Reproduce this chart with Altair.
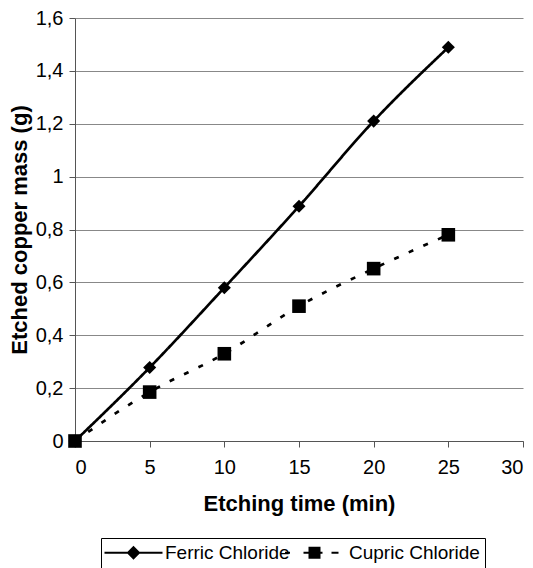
import altair as alt
import pandas as pd

# etching time (min)
times = [0, 5, 10, 15, 20, 25]
# etched copper mass (g)
ferric = [0.0, 0.278, 0.58, 0.888, 1.21, 1.489]
cupric = [0.0, 0.185, 0.33, 0.51, 0.652, 0.78]
series = ["Ferric Chloride", "Cupric Chloride"]

df = pd.DataFrame({
    "time": times * 2,
    "mass": ferric + cupric,
    "series": [series[0]] * len(times) + [series[1]] * len(times),
})

FONT = "Liberation Sans"

# legend symbols: the line with its marker on it, as svg paths
# (nested outlines so the marker looks filled)
ferric_sym = ("M-5.8,0L5.8,0"
              "M0,-1.1L1.1,0L0,1.1L-1.1,0Z"
              "M0,-0.6L0.6,0L0,0.6L-0.6,0Z"
              "M0,-0.2L0.2,0L0,0.2L-0.2,0Z")
cupric_sym = ("M-6.5,0L-5.5,0M-2.8,0L-1.6,0M0.4,0L1,0M2.8,0L4.2,0"
              "M-1.6,-1L0.4,-1L0.4,1L-1.6,1Z"
              "M-1.2,-0.6L0,-0.6L0,0.6L-1.2,0.6Z"
              "M-0.8,-0.2L-0.4,-0.2L-0.4,0.2L-0.8,0.2Z")

x = alt.X("time:Q", title="Etching time (min)",
          scale=alt.Scale(domain=[0, 30], nice=False),
          axis=alt.Axis(values=[0, 5, 10, 15, 20, 25, 30], grid=False,
                        labelPadding=10, titlePadding=16))
y = alt.Y("mass:Q", title="Etched copper mass (g)",
          scale=alt.Scale(domain=[0, 1.6], nice=False),
          axis=alt.Axis(values=[0, 0.2, 0.4, 0.6, 0.8, 1.0, 1.2, 1.4, 1.6],
                        labelExpr="replace(format(datum.value, '~g'), '.', ',')",
                        grid=True, labelPadding=6, titlePadding=4))

base = alt.Chart(df)

lines = base.mark_line(interpolate="monotone", strokeWidth=2.7, color="black").encode(
    x=x, y=y,
    detail="series:N",
    strokeDash=alt.StrokeDash("series:N", legend=None,
                              scale=alt.Scale(domain=series, range=[[1, 0], [5, 11]])),
)

points = base.mark_point(filled=True, opacity=1, color="black").encode(
    x=x, y=y,
    shape=alt.Shape("series:N", legend=None,
                    scale=alt.Scale(domain=series, range=["diamond", "square"])),
    size=alt.Size("series:N", legend=None,
                  scale=alt.Scale(domain=series, range=[170, 185])),
)

# empty layer that only carries the legend
key = base.transform_filter("false").mark_point(
    filled=False, color="black", strokeWidth=2, opacity=1,
).encode(
    x=x, y=y,
    shape=alt.Shape(
        "series:N",
        scale=alt.Scale(domain=series, range=[ferric_sym, cupric_sym]),
        legend=alt.Legend(
            title=None, orient="none", direction="horizontal",
            legendX=26, legendY=520,
            labelFont=FONT, labelFontSize=19, labelColor="black",
            symbolSize=100, symbolOffset=18, labelOffset=22, columnPadding=-15,
            symbolStrokeWidth=2, symbolStrokeColor="black",
            strokeColor="black", padding=5,
        ),
    ),
)

chart = (lines + points + key).resolve_scale(
    shape="independent",
).properties(
    width=448, height=423,
    padding={"left": 0, "top": 0, "right": 0, "bottom": 0},
).configure_view(
    stroke=None,
).configure_axis(
    labelFont=FONT, titleFont=FONT, labelFontSize=20, titleFontSize=22,
    labelColor="black", titleColor="black", titleFontWeight="bold",
    domainColor="#555", tickColor="#555", gridColor="#888",
    tickSize=6,
)

chart.save("out.html", embed_options={"renderer": "svg", "actions": False})
